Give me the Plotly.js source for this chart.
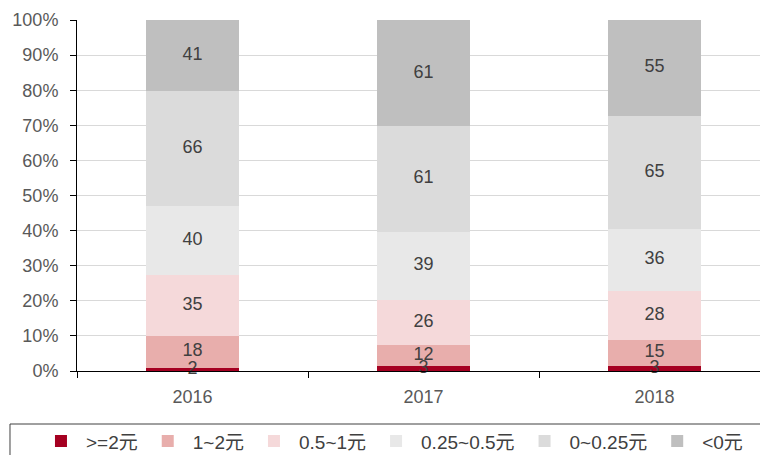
<!DOCTYPE html>
<html>
<head>
<meta charset="utf-8">
<script src="https://cdn.plot.ly/plotly-3.0.1.min.js"></script>
<style>
html,body{margin:0;padding:0;overflow:hidden;background:#fff;width:760px;height:455px;}
#chart{width:775px;height:470px;}
</style>
</head>
<body>
<div id="chart"></div>
<script>
var years = ['2016', '2017', '2018'];
var seriesNames = ['>=2元', '1~2元', '0.5~1元', '0.25~0.5元', '0~0.25元', '<0元'];
var seriesColors = ['#a50021', '#e8aeac', '#f5d9da', '#e8e8e8', '#dbdbdb', '#bfbfbf'];
var vGe2 = [2, 3, 3];
var v1to2 = [18, 12, 15];
var v05to1 = [35, 26, 28];
var v025to05 = [40, 39, 36];
var v0to025 = [66, 61, 65];
var vNeg = [41, 61, 55];
var yTickVals = [0, 10, 20, 30, 40, 50, 60, 70, 80, 90, 100];
var yTickText = ['0%', '10%', '20%', '30%', '40%', '50%', '60%', '70%', '80%', '90%', '100%'];

var allValues = [vGe2, v1to2, v05to1, v025to05, v0to025, vNeg];
var fontFam = '"Liberation Sans", Arial, "Noto Sans CJK SC", sans-serif';

var traces = allValues.map(function (vals, i) {
  return {
    type: 'bar',
    name: seriesNames[i],
    x: years,
    y: vals,
    textposition: 'none',
    marker: {color: seriesColors[i], line: {width: 0}},
    hoverinfo: 'skip'
  };
});

// value labels at the middle of each stacked segment (percent scale, from the data)
var totals = years.map(function (_, j) {
  return allValues.reduce(function (s, arr) { return s + arr[j]; }, 0);
});
var lblX = [], lblY = [], lblT = [];
years.forEach(function (yr, j) {
  var cum = 0;
  allValues.forEach(function (arr) {
    var v = arr[j];
    lblX.push(yr);
    lblY.push((cum + v / 2) / totals[j] * 100);
    lblT.push(String(v));
    cum += v;
  });
});
traces.push({
  type: 'scatter',
  mode: 'text',
  x: lblX,
  y: lblY,
  text: lblT,
  textposition: 'middle center',
  textfont: {family: fontFam, size: 18, color: '#404040'},
  cliponaxis: false,
  showlegend: false,
  hoverinfo: 'skip'
});

var layout = {
  width: 775,
  height: 470,
  margin: {l: 77, r: 5, t: 20, b: 99, autoexpand: false},
  barmode: 'stack',
  barnorm: 'percent',
  bargap: 0.6,
  paper_bgcolor: '#ffffff',
  plot_bgcolor: '#ffffff',
  font: {family: fontFam, size: 18, color: '#595959'},
  showlegend: true,
  legend: {
    orientation: 'h',
    x: -0.0592,
    xanchor: 'left',
    y: -0.146,
    yanchor: 'top',
    traceorder: 'normal',
    borderwidth: 0,
    bgcolor: 'rgba(0,0,0,0)',
    font: {family: fontFam, size: 19, color: '#404040'},
    itemwidth: 40
  },
  shapes: [{
    type: 'rect',
    xref: 'paper', yref: 'paper',
    x0: -0.0967, x1: 1.05,
    y0: -0.1510, y1: -0.30,
    line: {color: '#404040', width: 1},
    fillcolor: 'rgba(0,0,0,0)',
    layer: 'below'
  }],
  xaxis: {
    type: 'category',
    showline: true,
    linecolor: '#000000',
    linewidth: 1,
    ticks: 'outside',
    tickson: 'boundaries',
    ticklen: 6,
    tickcolor: '#000000',
    showgrid: false,
    tickfont: {family: fontFam, size: 18, color: '#595959'},
    ticklabelstandoff: 9
  },
  yaxis: {
    range: [0, 100],
    tickvals: yTickVals,
    ticktext: yTickText,
    showline: true,
    linecolor: '#000000',
    linewidth: 1,
    ticks: 'outside',
    ticklen: 6,
    tickcolor: '#000000',
    showgrid: true,
    gridcolor: '#d9d9d9',
    gridwidth: 1,
    zeroline: false,
    tickfont: {family: fontFam, size: 18, color: '#595959'},
    ticklabelstandoff: 8
  }
};

Plotly.newPlot('chart', traces, layout, {displayModeBar: false, staticPlot: true});
</script>
</body>
</html>
